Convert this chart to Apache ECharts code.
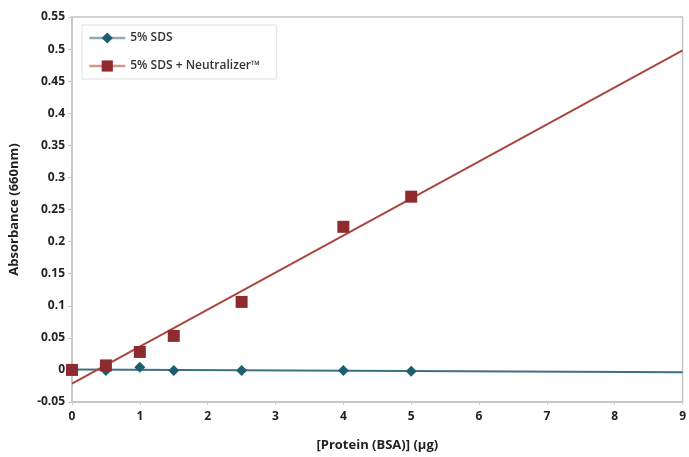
<!DOCTYPE html>
<html>
<head>
<meta charset="utf-8">
<style>
  html, body { margin: 0; padding: 0; background: #ffffff; }
  #chart { width: 689px; height: 457px; }
</style>
<script src="https://cdn.jsdelivr.net/npm/echarts@6/dist/echarts.min.js"></script>
</head>
<body>
<div id="chart"></div>
<script>
// Protein amounts (µg BSA) for each standard
const protein = [0, 0.5, 1, 1.5, 2.5, 4, 5];
// Absorbance at 660 nm
const sdsOnly = [0, -0.001, 0.004, -0.001, -0.001, -0.001, -0.002];
const sdsNeutralizer = [0, 0.007, 0.028, 0.053, 0.106, 0.223, 0.270];

const seriesNames = ['5% SDS', '5% SDS + Neutralizer™'];
const xRange = [0, 9];
const yRange = [-0.05, 0.55];

// Least-squares linear fit, drawn across the full x range
function fitLine(xs, ys) {
  const n = xs.length;
  const mx = xs.reduce((a, b) => a + b, 0) / n;
  const my = ys.reduce((a, b) => a + b, 0) / n;
  let sxy = 0, sxx = 0;
  for (let i = 0; i < n; i++) {
    sxy += (xs[i] - mx) * (ys[i] - my);
    sxx += (xs[i] - mx) * (xs[i] - mx);
  }
  const slope = sxy / sxx;
  const icpt = my - slope * mx;
  return xRange.map(x => [x, icpt + slope * x]);
}

const blueLine = '#3f6f84';
const blueMark = '#1d5e70';
const redLine = '#a9473e';
const redMark = '#8f2b2f';
const font = '"Open Sans", "Liberation Sans", sans-serif';

const chart = echarts.init(document.getElementById('chart'), null, { renderer: 'canvas' });

chart.setOption({
  animation: false,
  grid: {
    left: 72, right: 4, top: 17, bottom: 47,
    show: true, borderColor: '#c4c4c4', borderWidth: 1.5, backgroundColor: 'transparent'
  },
  legend: {
    left: 82, top: 25,
    orient: 'vertical',
    backgroundColor: '#ffffff',
    borderColor: '#e0e0e0', borderWidth: 1,
    padding: [7, 16, 7, 6],
    itemWidth: 36, itemHeight: 14, itemGap: 16,
    textStyle: { fontFamily: font, fontSize: 12, fontWeight: 600, color: '#333' },
    data: [
      { name: seriesNames[0], lineStyle: { opacity: 1, color: '#8fa9b6', width: 2.5 } },
      { name: seriesNames[1], lineStyle: { opacity: 1, color: '#d4958f', width: 2.5 } }
    ]
  },
  xAxis: {
    type: 'value',
    min: xRange[0], max: xRange[1], interval: 1,
    name: '[Protein (BSA)] (µg)',
    nameLocation: 'middle', nameGap: 37,
    nameTextStyle: { fontFamily: font, fontSize: 13, fontWeight: 'bold', color: '#222' },
    axisLine: { show: true, onZero: false, lineStyle: { color: '#c4c4c4', width: 1.5 } },
    axisTick: { show: true, length: 3, lineStyle: { color: '#d0d0d0' } },
    axisLabel: { fontFamily: font, fontSize: 12, fontWeight: 'bold', color: '#222', margin: 9 },
    splitLine: { show: false }
  },
  yAxis: {
    type: 'value',
    min: yRange[0], max: yRange[1], interval: 0.05,
    name: 'Absorbance (660nm)',
    nameLocation: 'middle', nameGap: 51,
    nameTextStyle: { fontFamily: font, fontSize: 13, fontWeight: 'bold', color: '#222' },
    axisLine: { show: true, onZero: false, lineStyle: { color: '#c4c4c4', width: 1.5 } },
    axisTick: { show: true, length: 4, lineStyle: { color: '#c4c4c4' } },
    axisLabel: {
      fontFamily: font, fontSize: 12, fontWeight: 'bold', color: '#222', margin: 7,
      formatter: v => String(+v.toFixed(2))
    },
    splitLine: { show: false }
  },
  series: [
    {
      name: seriesNames[0] + ' fit', type: 'line', data: fitLine(protein, sdsOnly),
      symbol: 'none', silent: true, z: 2,
      lineStyle: { color: blueLine, width: 2 }
    },
    {
      name: seriesNames[1] + ' fit', type: 'line', data: fitLine(protein, sdsNeutralizer),
      symbol: 'none', silent: true, z: 2,
      lineStyle: { color: redLine, width: 2 }
    },
    {
      name: seriesNames[0], type: 'line',
      data: protein.map((x, i) => [x, sdsOnly[i]]),
      symbol: 'diamond', symbolSize: 11, z: 3,
      itemStyle: { color: blueMark },
      lineStyle: { opacity: 0 }
    },
    {
      name: seriesNames[1], type: 'line',
      data: protein.map((x, i) => [x, sdsNeutralizer[i]]),
      symbol: 'rect', symbolSize: 12, z: 4,
      itemStyle: { color: redMark },
      lineStyle: { opacity: 0 }
    }
  ]
});
</script>
</body>
</html>
